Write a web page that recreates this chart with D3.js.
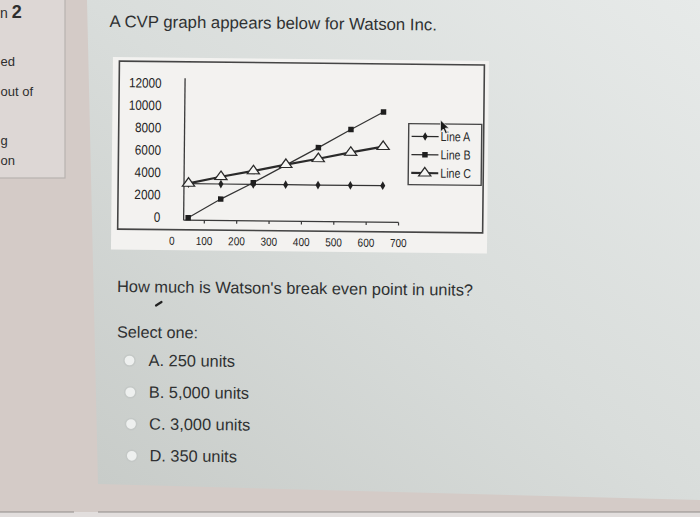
<!DOCTYPE html>
<html><head><meta charset="utf-8">
<script src="https://cdn.jsdelivr.net/npm/d3@7"></script>
<style>html,body{margin:0;padding:0;overflow:hidden;background:#d3cac6}</style>
</head><body>
<svg id="c" width="700" height="517"></svg>
<script>
// ---- data ----
const units = [50, 150, 250, 350, 450, 550, 650];
const lineA = [3050, 3050, 3050, 3050, 3050, 3050, 3050];
const lineB = [0, 1700, 3200, 4800, 6400, 8050, 9650];
const lineC = [3080, 3700, 4250, 4850, 5400, 6000, 6550];
const seriesNames = ["Line A", "Line B", "Line C"];
const xTicks = [0, 100, 200, 300, 400, 500, 600, 700];
const yTicks = [0, 2000, 4000, 6000, 8000, 10000, 12000];
const titleText = "A CVP graph appears below for Watson Inc.";
const questionText = "How much is Watson's break even point in units?";
const selectText = "Select one:";
const options = ["A. 250 units", "B. 5,000 units", "C. 3,000 units", "D. 350 units"];
// sidebar fragments visible at the left edge of the photo
const sideTexts = ["ed", "out of", "g", "on"];

const svg = d3.select("#c");
const FONT = "'Liberation Sans', Arial, Helvetica, sans-serif";
const TILT = 0.6; // the photo is slightly rotated
const defs = svg.append("defs");

// ---- page background (photo of a screen) ----
const g1 = defs.append("linearGradient").attr("id", "panel")
  .attr("x1", "1").attr("y1", "0").attr("x2", "0").attr("y2", "1");
g1.append("stop").attr("offset", "0").attr("stop-color", "#e7eae9");
g1.append("stop").attr("offset", "0.5").attr("stop-color", "#d9dddb");
g1.append("stop").attr("offset", "1").attr("stop-color", "#c7cbc8");

svg.append("rect").attr("width", 700).attr("height", 517).attr("fill", "#d4cbc7");
svg.append("polygon").attr("points", "87,0 700,0 700,500 98,484").attr("fill", "url(#panel)");
// sidebar
svg.append("rect").attr("x", -5).attr("y", -5).attr("width", 70).attr("height", 183)
  .attr("fill", "#ddd7d5").attr("stroke", "#b8b2b0").attr("stroke-width", 1.2);
// bottom strip
svg.append("rect").attr("x", 0).attr("y", 512).attr("width", 700).attr("height", 5).attr("fill", "#e2dedd");
svg.append("line").attr("x1", 0).attr("x2", 74).attr("y1", 512).attr("y2", 512).attr("stroke", "#8f8b8a").attr("stroke-width", 1.2);
svg.append("line").attr("x1", 98).attr("x2", 700).attr("y1", 512).attr("y2", 512).attr("stroke", "#8f8b8a").attr("stroke-width", 1.2);

// sidebar text
const side = svg.append("g").attr("font-family", FONT).attr("fill", "#2e2e2e");
const q = side.append("text").attr("x", 0).attr("y", 18);
q.append("tspan").attr("font-size", 14).text("n ");
q.append("tspan").attr("font-size", 18).attr("font-weight", "bold").text("2");
const sideX = [0.5, 0.5, 0.5, 0.5];
const sideY = [66, 96, 145, 165];
sideTexts.forEach((t, i) => side.append("text").attr("x", sideX[i]).attr("y", sideY[i]).attr("font-size", 13).text(t));

// ---- main texts ----
const txt = svg.append("g").attr("font-family", FONT).attr("fill", "#2f3132");
function tiltText(s, x0, y0, size) {
  return txt.append("text").attr("x", x0).attr("y", y0).attr("font-size", size)
    .attr("transform", `rotate(${TILT},${x0},${y0})`).text(s);
}
tiltText(titleText, 109.5, 27, 16.8);
tiltText(questionText, 117, 292, 16.4);
tiltText(selectText, 117, 337.5, 16.2);
// pen mark
svg.append("line").attr("x1", 156).attr("y1", 305.5).attr("x2", 161.5).attr("y2", 302)
  .attr("stroke", "#222").attr("stroke-width", 2.2).attr("stroke-linecap", "round");

const optY = d3.scaleLinear().domain([0, 3]).range([366, 461.3]);
const optCx = d3.scaleLinear().domain([0, 3]).range([129.5, 131.8]);
options.forEach((o, i) => {
  svg.append("circle").attr("cx", optCx(i)).attr("cy", optY(i) - 5.5).attr("r", 5.6)
    .attr("fill", "#eef0ef").attr("stroke", "#c4c8c6").attr("stroke-width", 1.5);
  tiltText(o, 148.5 + i * 0.3, optY(i), 16.4);
});

// ---- chart (slightly tilted like the photo) ----
const chartG = svg.append("g").attr("transform", `rotate(${TILT},300,150)`);
chartG.append("rect").attr("x", 112).attr("y", 59).attr("width", 376).attr("height", 192.5).attr("fill", "#f3f2f0");
chartG.append("rect").attr("x", 118.5).attr("y", 63).attr("width", 365).attr("height", 168)
  .attr("fill", "none").attr("stroke", "#454545").attr("stroke-width", 1.6);

const x = d3.scaleLinear().domain([0, 700]).range([172.7, 399.3]);
const y = d3.scaleLinear().domain([0, 12000]).range([218.9, 84.9]);
const axisX = x(36);       // where the value axis crosses
const axisY = y(0) + 2.5;  // category axis baseline

const chart = chartG.append("g");
chart.append("line").attr("x1", axisX).attr("x2", axisX).attr("y1", 79.5).attr("y2", axisY)
  .attr("stroke", "#3a3a3a").attr("stroke-width", 1.3);
chart.append("line").attr("x1", axisX).attr("x2", x(700)).attr("y1", axisY).attr("y2", axisY)
  .attr("stroke", "#3a3a3a").attr("stroke-width", 1.3);
chart.selectAll(".xt").data(xTicks.filter(d => d > 0)).join("line")
  .attr("x1", d => x(d)).attr("x2", d => x(d)).attr("y1", axisY).attr("y2", axisY + 3)
  .attr("stroke", "#3a3a3a").attr("stroke-width", 1.2);

chart.selectAll(".yl").data(yTicks).join("text")
  .attr("transform", d => `translate(161,${y(d)}) scale(0.87,1)`)
  .attr("text-anchor", "end").attr("dominant-baseline", "central")
  .attr("font-family", FONT).attr("font-size", 13.5).attr("fill", "#242424")
  .text(d => d);
chart.selectAll(".xl").data(xTicks).join("text")
  .attr("transform", d => `translate(${x(d)},246) scale(0.87,1)`)
  .attr("text-anchor", "middle")
  .attr("font-family", FONT).attr("font-size", 11.5).attr("fill", "#242424")
  .text(d => d);

const line = d3.line().x((d, i) => x(units[i])).y(d => y(d));
const diamond = d3.symbol().type(d3.symbolDiamond).size(22);
const square = d3.symbol().type(d3.symbolSquare).size(30);
const tri = d3.symbol().type(d3.symbolTriangle).size(42);

chart.append("path").attr("d", line(lineA)).attr("fill", "none").attr("stroke", "#333").attr("stroke-width", 1.2);
chart.selectAll(".pa").data(lineA).join("path")
  .attr("transform", (d, i) => `translate(${x(units[i])},${y(d)})`).attr("d", diamond).attr("fill", "#222");
chart.append("path").attr("d", line(lineB)).attr("fill", "none").attr("stroke", "#333").attr("stroke-width", 1.2);
chart.selectAll(".pb").data(lineB).join("path")
  .attr("transform", (d, i) => `translate(${x(units[i])},${y(d)})`).attr("d", square).attr("fill", "#1e1e1e");
chart.append("path").attr("d", line(lineC)).attr("fill", "none").attr("stroke", "#2a2a2a").attr("stroke-width", 2.2);
chart.selectAll(".pc").data(lineC).join("path")
  .attr("transform", (d, i) => `translate(${x(units[i])},${y(d)}) scale(1.25,1)`).attr("d", tri)
  .attr("fill", "#f6f6f4").attr("stroke", "#2a2a2a").attr("stroke-width", 1.1);

// legend
const leg = chartG.append("g");
leg.append("rect").attr("x", 408.5).attr("y", 122.5).attr("width", 73).attr("height", 61)
  .attr("fill", "#f3f2f0").attr("stroke", "#454545").attr("stroke-width", 1.4);
const legY = d3.scalePoint().domain(seriesNames).range([135.2, 171.8]);
const markers = [diamond, square, tri];
const widths = [1.2, 1.2, 2.2];
seriesNames.forEach((n, i) => {
  const yy = legY(n);
  leg.append("line").attr("x1", 411.5).attr("x2", 438.5).attr("y1", yy).attr("y2", yy)
    .attr("stroke", "#2a2a2a").attr("stroke-width", widths[i]);
  const m = leg.append("path").attr("d", markers[i])
    .attr("transform", `translate(425,${yy})` + (i === 2 ? " scale(1.25,1)" : ""));
  if (i === 2) m.attr("fill", "#f6f6f4").attr("stroke", "#2a2a2a").attr("stroke-width", 1.1);
  else m.attr("fill", "#1e1e1e");
  leg.append("text").attr("transform", `translate(440.5,${yy}) scale(0.82,1)`)
    .attr("dominant-baseline", "central").attr("font-family", FONT).attr("font-size", 13)
    .attr("fill", "#2a2a2a").text(n);
});

// mouse pointer
svg.append("path").attr("d", "M0,0 L0,14 L3.4,10.6 L5.8,16 L8,15 L5.6,9.6 L10,9.6 Z")
  .attr("transform", "translate(440.5,120) scale(0.85)")
  .attr("fill", "#1a1a1a").attr("stroke", "#f0f0f0").attr("stroke-width", 0.8);
</script>
</body></html>
